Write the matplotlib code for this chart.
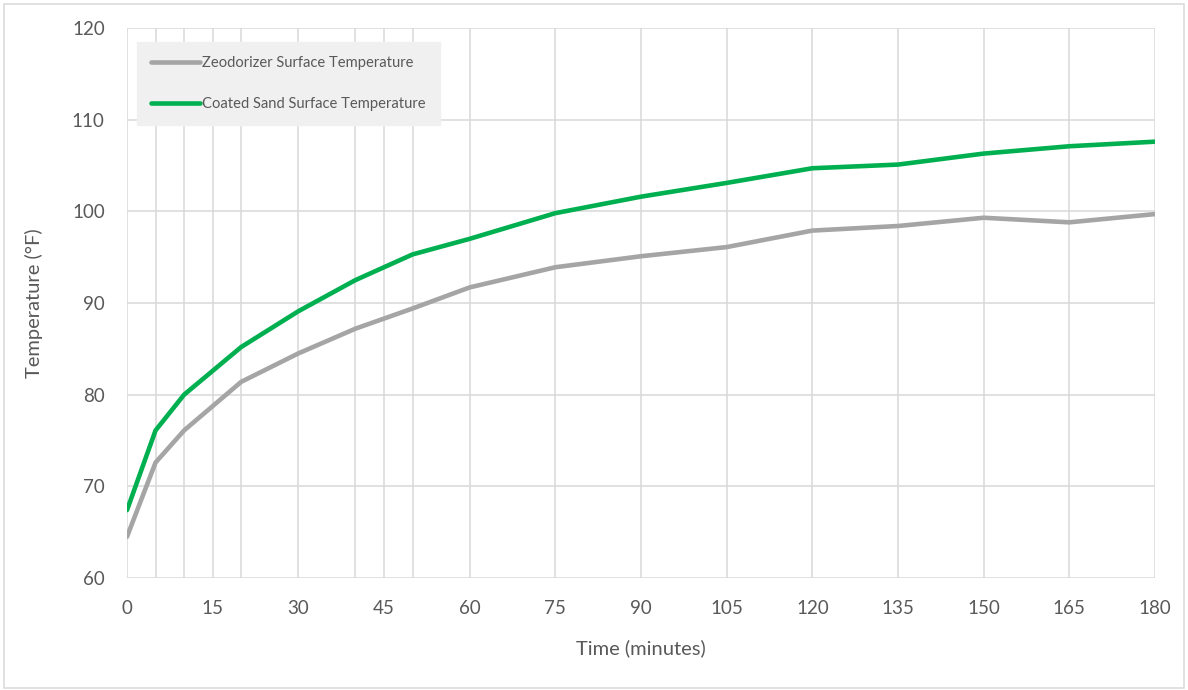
import matplotlib
matplotlib.use('Agg')
import matplotlib.pyplot as plt
from matplotlib.patches import Rectangle

# data
minutes = [0, 5, 10, 20, 30, 40, 50, 60, 75, 90, 105, 120, 135, 150, 165, 180]
zeodorizer = [64.5, 72.6, 76.1, 81.4, 84.5, 87.2, 89.4, 91.7, 93.9, 95.1, 96.1, 97.9, 98.4, 99.3, 98.8, 99.7]
coated_sand = [67.4, 76.1, 80.0, 85.2, 89.1, 92.5, 95.3, 97.0, 99.8, 101.6, 103.1, 104.7, 105.1, 106.3, 107.1, 107.6]
x_ticks = [0, 15, 30, 45, 60, 75, 90, 105, 120, 135, 150, 165, 180]
y_ticks = [60, 70, 80, 90, 100, 110, 120]

plt.rcParams['font.family'] = ['Lato', 'DejaVu Sans']

fig = plt.figure(figsize=(11.88, 6.9), dpi=100)
ax = fig.add_axes([127 / 1188, 1 - 578 / 690, (1155 - 127) / 1188, (578 - 28) / 690])

grid_color = '#D9D9D9'
# vertical gridlines at every data time and every major tick
for xv in sorted(set(minutes) | set(x_ticks)):
    ax.axvline(xv, color=grid_color, lw=1.1, zorder=0)
for yv in y_ticks:
    ax.axhline(yv, color=grid_color, lw=1.1, zorder=0)

ax.plot(minutes, zeodorizer, color='#A5A5A5', lw=3.3, solid_capstyle='round',
        label='Zeodorizer Surface Temperature', zorder=3)
ax.plot(minutes, coated_sand, color='#00B050', lw=3.3, solid_capstyle='round',
        label='Coated Sand Surface Temperature', zorder=3)

ax.set_xlim(0, 180)
ax.set_ylim(60, 120)
ax.set_xticks(x_ticks)
ax.set_yticks(y_ticks)
for s in ax.spines.values():
    s.set_visible(False)
ax.tick_params(length=0, labelsize=13.5, labelcolor='#595959')
ax.tick_params(axis='x', pad=16)
ax.tick_params(axis='y', pad=16)

ax.set_xlabel('Time (minutes)', fontsize=14.5, color='#595959', labelpad=16)
ax.set_ylabel('Temperature (°F)', fontsize=14.5, color='#595959', labelpad=21)

leg = ax.legend(loc='upper left', bbox_to_anchor=(0.0097, 0.975), fontsize=10.6,
                frameon=True, fancybox=False, handlelength=3.3, handletextpad=0.2,
                labelspacing=1.85, borderpad=0.95, borderaxespad=0)
leg.get_frame().set_facecolor('#F0F0F0')
leg.get_frame().set_edgecolor('#F0F0F0')
leg.get_frame().set_alpha(1)
for t in leg.get_texts():
    t.set_color('#595959')

# outer chart border
fig.patches.append(Rectangle((4 / 1188, 2 / 690), 1 - 8 / 1188, 1 - 6 / 690,
                             transform=fig.transFigure, fill=False,
                             edgecolor='#D9D9D9', lw=1.1))

fig.savefig('out.png', dpi=100)
